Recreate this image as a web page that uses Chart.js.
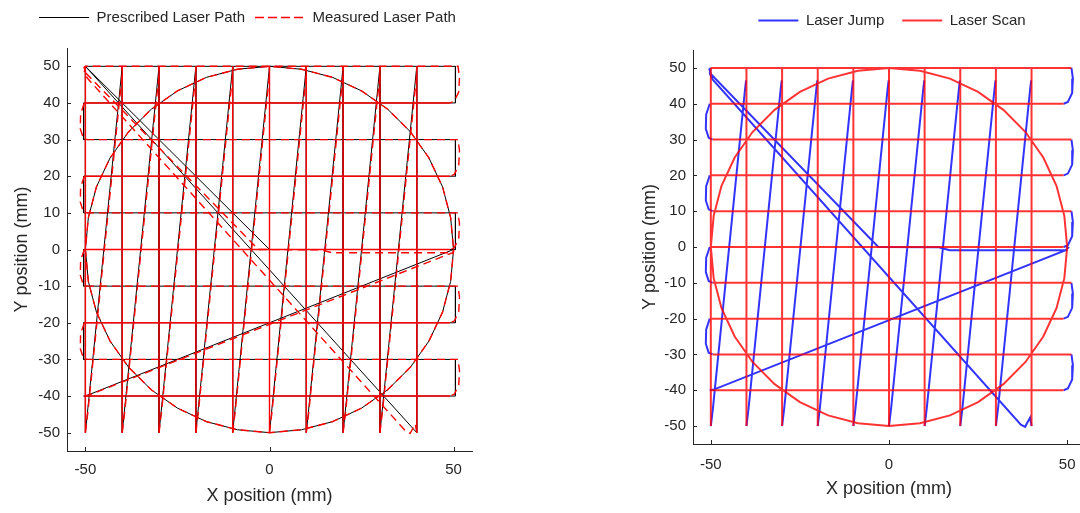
<!DOCTYPE html>
<html>
<head>
<meta charset="utf-8">
<script src="https://cdn.jsdelivr.net/npm/chart.js@4.4.0/dist/chart.umd.min.js"></script>
<style>
  html, body { margin: 0; padding: 0; background: #fff; width: 1080px; height: 513px; overflow: hidden; }
  .box { position: absolute; }
  #leftBox { left: 7px; top: 0; width: 481px; height: 511px; }
  #rightBox { left: 635px; top: -5px; width: 514px; height: 509px; }
</style>
</head>
<body>
<div class="box" id="leftBox"><canvas id="pathChart"></canvas></div>
<div class="box" id="rightBox"><canvas id="typeChart"></canvas></div>
<script>
// Axes
const xTicks = [-50, 0, 50];
const yTicks = [-50, -40, -30, -20, -10, 0, 10, 20, 30, 40, 50];

// Prescribed scan geometry (mm)
const rowY = [50, 40, 30, 20, 10, 0, -10, -20, -30, -40]; // horizontal raster, alternating direction
const colX = [-50, -40, -30, -20, -10, 0, 10, 20, 30, 40]; // vertical raster, scanned top -> bottom
const colTopY = 50;
const colBotY = -50;
const rowHalf = 50.5;
const circX = [50, 49.2, 47, 43.3, 38.3, 32.1, 25, 17.1, 8.7, 0, -8.7, -17.1, -25, -32.1, -38.3, -43.3, -47, -49.2,
  -50, -49.2, -47, -43.3, -38.3, -32.1, -25, -17.1, -8.7, 0, 8.7, 17.1, 25, 32.1, 38.3, 43.3, 47, 49.2, 50];
const circY = [0, 8.7, 17.1, 25, 32.1, 38.3, 43.3, 47, 49.2, 50, 49.2, 47, 43.3, 38.3, 32.1, 25, 17.1, 8.7,
  0, -8.7, -17.1, -25, -32.1, -38.3, -43.3, -47, -49.2, -50, -49.2, -47, -43.3, -38.3, -32.1, -25, -17.1, -8.7, 0];
const jumpA = [[40, -50], [-50, 50]];          // end of columns -> start of rows
const jumpB = [[-50, -40], [50, 0]];           // end of rows -> circle start
const jumpC = [[50, 0], [0, 0], [-50, 50]];    // circle end -> back to start

// Measured path (what the laser really did)
const colJumpDx = [0, 0.6, 9.6, 9.9];
const colJumpY = [-50, -45, 44, 46.5];
const connRX = [51.2, 51.6, 51.4, 50.2, 49];
const connLX = [-50.3, -51.3, -51.4, -50.6, -49.5];
const connDy = [0, -3, -7, -9.5, -10];
const jumpAMeas = [[40, -50], [39.6, -47.6], [38.2, -50.2], [37, -49.6], [-49.5, 46.8], [-50.3, 48.5], [-50, 50]];
const jumpBMeas = [[-50.3, -40], [-49.2, -39.8], [49.6, -0.9], [50.3, -0.2], [50, 0]];
const jumpCMeas = [[50, 0], [49.8, -0.9], [17, -0.9], [14, -0.1], [-3, 0], [-50, 48.3], [-50.4, 49.6], [-50, 50]];

const FONT = '"Liberation Sans", Arial, sans-serif';
const TXT = "#262626";

// Construit la trajectoire en segments (scan / jump)
function buildPath(meas) {
  const segs = [];
  colX.forEach((x, i) => {
    segs.push({ kind: "scan", pts: [[x, colTopY], [x, colBotY]] });
    if (i < colX.length - 1) {
      const pts = meas
        ? colJumpDx.map((d, k) => [x + d, colJumpY[k]])
        : [[x, colBotY], [colX[i + 1], colTopY]];
      segs.push({ kind: "jump", pts });
    }
  });
  segs.push({ kind: "jump", pts: meas ? jumpAMeas : jumpA });
  rowY.forEach((y, i) => {
    const ltr = i % 2 === 0;
    let pts;
    if (meas) {
      pts = ltr
        ? [[i === 0 ? -50 : connLX[connLX.length - 1], y], [connRX[0], y]]
        : [[connRX[connRX.length - 1], y], [connLX[0], y]];
    } else {
      pts = ltr ? [[i === 0 ? -50 : -rowHalf, y], [rowHalf, y]] : [[rowHalf, y], [-rowHalf, y]];
    }
    segs.push({ kind: "scan", pts });
    if (i < rowY.length - 1) {
      const cx = ltr ? connRX : connLX;
      const ex = ltr ? rowHalf : -rowHalf;
      segs.push({
        kind: "jump",
        pts: meas ? cx.map((v, k) => [v, y + connDy[k]]) : [[ex, y], [ex, rowY[i + 1]]],
      });
    }
  });
  segs.push({ kind: "jump", pts: meas ? jumpBMeas : jumpB });
  segs.push({ kind: "scan", pts: circX.map((x, k) => [x, circY[k]]) });
  segs.push({ kind: "jump", pts: meas ? jumpCMeas : jumpC });
  return segs;
}

const toPts = (arr) => arr.map(([x, y]) => ({ x, y }));
const joined = (segs) => toPts(segs.flatMap((s) => s.pts));
const broken = (segs, kind) =>
  segs.filter((s) => s.kind === kind).flatMap((s) => [...toPts(s.pts), { x: null, y: null }]);

const prescribed = buildPath(false);
const measured = buildPath(true);

// long columns and right-to-left rows come out nearly solid in the measured trace
function solidSeg(ctx) {
  const a = ctx.p0.parsed, b = ctx.p1.parsed;
  if (a.x === b.x && Math.abs(a.y - b.y) > 50) return true;
  if (a.y === b.y && a.x - b.x > 50) return true;
  return false;
}

// Plugins
function legendHeight(h) {
  return {
    id: "legendHeight",
    beforeInit(chart) {
      const fit = chart.legend.fit;
      chart.legend.fit = function () {
        fit.call(this);
        this.height = h;
      };
    },
  };
}

const inwardTicks = {
  id: "inwardTicks",
  afterDraw(chart) {
    const { ctx, chartArea, scales } = chart;
    ctx.save();
    ctx.strokeStyle = TXT;
    ctx.lineWidth = 1;
    ctx.beginPath();
    scales.x.ticks.forEach((t) => {
      const px = Math.round(scales.x.getPixelForValue(t.value)) + 0.5;
      ctx.moveTo(px, chartArea.bottom);
      ctx.lineTo(px, chartArea.bottom - 4);
    });
    scales.y.ticks.forEach((t) => {
      const py = Math.round(scales.y.getPixelForValue(t.value)) + 0.5;
      ctx.moveTo(chartArea.left, py);
      ctx.lineTo(chartArea.left + 4, py);
    });
    ctx.stroke();
    ctx.restore();
  },
};

function makeOptions(cfg) {
  return {
    animation: false,
    responsive: true,
    maintainAspectRatio: false,
    layout: { padding: 0 },
    elements: { point: { radius: 0 } },
    plugins: {
      legend: {
        position: "top",
        labels: {
          boxWidth: cfg.boxWidth,
          boxHeight: 0,
          padding: cfg.legendPad,
          color: TXT,
          font: { family: FONT, size: 15 },
          sort: (a, b) => a.datasetIndex - b.datasetIndex,
        },
      },
      tooltip: { enabled: false },
    },
    scales: {
      x: {
        type: "linear",
        position: "bottom",
        min: -55,
        max: 55,
        afterBuildTicks: (s) => { s.ticks = xTicks.map((v) => ({ value: v })); },
        afterFit: (s) => { s.height = cfg.xAxisH; },
        grid: { display: false, drawTicks: false },
        border: { display: true, color: TXT, width: 1 },
        ticks: { color: TXT, font: { family: FONT, size: 15 }, padding: cfg.xTickPad, maxRotation: 0 },
        title: { display: true, text: "X position (mm)", color: TXT, font: { family: FONT, size: 18 }, padding: { top: 4, bottom: 4 } },
      },
      y: {
        type: "linear",
        position: "left",
        min: -55,
        max: 55,
        afterBuildTicks: (s) => { s.ticks = yTicks.map((v) => ({ value: v })); },
        afterFit: (s) => { s.width = cfg.yAxisW; },
        grid: { display: false, drawTicks: false },
        border: { display: true, color: TXT, width: 1 },
        ticks: { color: TXT, font: { family: FONT, size: 15 }, padding: 7 },
        title: { display: true, text: "Y position (mm)", color: TXT, font: { family: FONT, size: 18 }, padding: { top: 4, bottom: 4 } },
      },
      pad: {
        type: "linear",
        position: "right",
        afterFit: (s) => { s.width = cfg.rightGap; },
        grid: { display: false, drawTicks: false },
        border: { display: false },
        ticks: { display: false },
      },
    },
  };
}

// 1) Prescribed vs measured
new Chart(document.getElementById("pathChart"), {
  type: "scatter",
  data: {
    datasets: [
      {
        label: "Prescribed Laser Path",
        data: joined(prescribed),
        showLine: true,
        borderColor: "#000000",
        backgroundColor: "#000000",
        borderWidth: 1,
        yAxisID: "y",
        order: 2,
      },
      {
        label: "Measured Laser Path",
        data: joined(measured),
        showLine: true,
        borderColor: "#ff0000",
        backgroundColor: "#ff0000",
        borderWidth: 1.4,
        borderDash: [8, 5],
        segment: { borderDash: (ctx) => (solidSeg(ctx) ? [] : undefined) },
        yAxisID: "y",
        order: 1,
      },
    ],
  },
  options: makeOptions({ boxWidth: 50, legendPad: 10, xAxisH: 60, xTickPad: 10, yAxisW: 60, rightGap: 16 }),
  plugins: [legendHeight(48), inwardTicks],
});

// 2) Jump vs scan
new Chart(document.getElementById("typeChart"), {
  type: "scatter",
  data: {
    datasets: [
      {
        label: "Laser Jump",
        data: broken(measured, "jump"),
        showLine: true,
        borderColor: "rgba(0,0,255,0.8)",
        backgroundColor: "rgba(0,0,255,0.8)",
        borderWidth: 2,
        yAxisID: "y",
        order: 2,
      },
      {
        label: "Laser Scan",
        data: broken(measured, "scan"),
        showLine: true,
        borderColor: "rgba(255,0,0,0.8)",
        backgroundColor: "rgba(255,0,0,0.8)",
        borderWidth: 2,
        yAxisID: "y",
        order: 1,
      },
    ],
  },
  options: makeOptions({ boxWidth: 40, legendPad: 18, xAxisH: 60, xTickPad: 12, yAxisW: 58, rightGap: 64 }),
  plugins: [legendHeight(55), inwardTicks],
});
</script>
</body>
</html>
